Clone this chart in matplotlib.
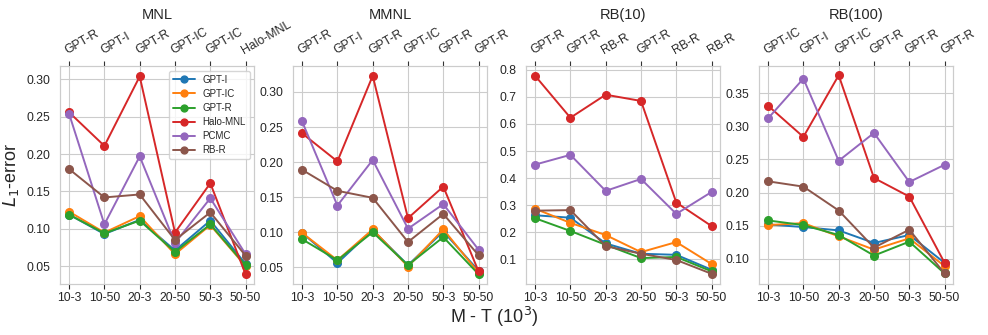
import matplotlib
matplotlib.use("Agg")
import matplotlib.pyplot as plt
from matplotlib.ticker import MultipleLocator
import seaborn as sns

sns.set_style("whitegrid")
plt.rcParams['font.family'] = ['Liberation Sans', 'DejaVu Sans']

# ---- data ----
x_labels = ["10-3", "10-50", "20-3", "20-50", "50-3", "50-50"]
models = ["GPT-I", "GPT-IC", "GPT-R", "Halo-MNL", "PCMC", "RB-R"]
panels = ["MNL", "MMNL", "RB(10)", "RB(100)"]

# lowest-error model per column (top axis)
best_mnl = ["GPT-R", "GPT-I", "GPT-R", "GPT-IC", "GPT-IC", "Halo-MNL"]
best_mmnl = ["GPT-R", "GPT-I", "GPT-R", "GPT-IC", "GPT-R", "GPT-R"]
best_rb10 = ["GPT-R", "GPT-R", "RB-R", "GPT-R", "RB-R", "RB-R"]
best_rb100 = ["GPT-IC", "GPT-I", "GPT-IC", "GPT-R", "GPT-R", "GPT-R"]

mnl = {
    "GPT-I":    [0.119, 0.093, 0.112, 0.071, 0.111, 0.053],
    "GPT-IC":   [0.123, 0.095, 0.117, 0.066, 0.105, 0.050],
    "GPT-R":    [0.119, 0.094, 0.111, 0.069, 0.106, 0.051],
    "Halo-MNL": [0.256, 0.211, 0.304, 0.095, 0.161, 0.039],
    "PCMC":     [0.254, 0.106, 0.197, 0.081, 0.141, 0.066],
    "RB-R":     [0.180, 0.142, 0.146, 0.085, 0.122, 0.064],
}
mmnl = {
    "GPT-I":    [0.099, 0.056, 0.103, 0.053, 0.101, 0.045],
    "GPT-IC":   [0.099, 0.060, 0.104, 0.051, 0.104, 0.042],
    "GPT-R":    [0.090, 0.060, 0.100, 0.053, 0.093, 0.040],
    "Halo-MNL": [0.241, 0.201, 0.323, 0.120, 0.165, 0.044],
    "PCMC":     [0.258, 0.138, 0.203, 0.105, 0.140, 0.075],
    "RB-R":     [0.189, 0.159, 0.149, 0.086, 0.126, 0.067],
}
rb10 = {
    "GPT-I":    [0.263, 0.254, 0.159, 0.121, 0.117, 0.062],
    "GPT-IC":   [0.287, 0.235, 0.190, 0.127, 0.164, 0.083],
    "GPT-R":    [0.252, 0.205, 0.154, 0.105, 0.109, 0.056],
    "Halo-MNL": [0.778, 0.623, 0.708, 0.685, 0.310, 0.223],
    "PCMC":     [0.450, 0.486, 0.353, 0.397, 0.268, 0.349],
    "RB-R":     [0.280, 0.282, 0.149, 0.121, 0.098, 0.047],
}
rb100 = {
    "GPT-I":    [0.152, 0.148, 0.143, 0.124, 0.136, 0.094],
    "GPT-IC":   [0.151, 0.154, 0.134, 0.114, 0.131, 0.089],
    "GPT-R":    [0.158, 0.151, 0.136, 0.105, 0.126, 0.078],
    "Halo-MNL": [0.331, 0.284, 0.377, 0.222, 0.194, 0.094],
    "PCMC":     [0.312, 0.372, 0.248, 0.290, 0.216, 0.242],
    "RB-R":     [0.217, 0.209, 0.173, 0.117, 0.144, 0.078],
}

all_data = [mnl, mmnl, rb10, rb100]
all_best = [best_mnl, best_mmnl, best_rb10, best_rb100]
ylims = [(0.026, 0.318), (0.026, 0.337), (0.009, 0.814), (0.062, 0.391)]
ysteps = [0.05, 0.05, 0.1, 0.05]

fig, axes = plt.subplots(1, 4, figsize=(9.88, 3.35), dpi=100)
fig.subplots_adjust(left=0.061, right=0.965, bottom=0.152, top=0.803, wspace=0.2)

xs = list(range(len(x_labels)))
for i, ax in enumerate(axes):
    data = all_data[i]
    for m in models:
        ax.plot(xs, data[m], marker="o", markersize=5.5, linewidth=1.4, label=m)
    ax.set_xticks(xs)
    ax.set_xticklabels(x_labels, fontsize=8.8)
    ax.tick_params(axis="x", pad=2)
    ax.tick_params(axis="y", labelsize=8.8)
    ax.set_ylim(*ylims[i])
    ax.yaxis.set_major_locator(MultipleLocator(ysteps[i]))
    for s in ax.spines.values():
        s.set_color("#cccccc")

    top = ax.twiny()
    top.set_xlim(ax.get_xlim())
    top.set_xticks(xs)
    top.set_xticklabels(all_best[i], rotation=30, ha="left", fontsize=8.8,
                        rotation_mode="anchor")
    top.tick_params(axis="x", length=3.5, color="#333333", pad=3)
    top.grid(False)
    for s in top.spines.values():
        s.set_color("#cccccc")
    # fixed y so the twin's tick labels do not push the title off the figure
    ax.set_title(panels[i], fontsize=10.5, y=1.215, pad=0)

axes[0].set_ylabel("$L_1$-error", fontsize=13)
axes[0].legend(loc="upper right", fontsize=7, handlelength=2.2,
               markerscale=0.9, labelspacing=0.42)
fig.text(0.5, 0.035, "M - T (10$^3$)", ha="center", fontsize=13)

fig.savefig("out.png", dpi=100)
